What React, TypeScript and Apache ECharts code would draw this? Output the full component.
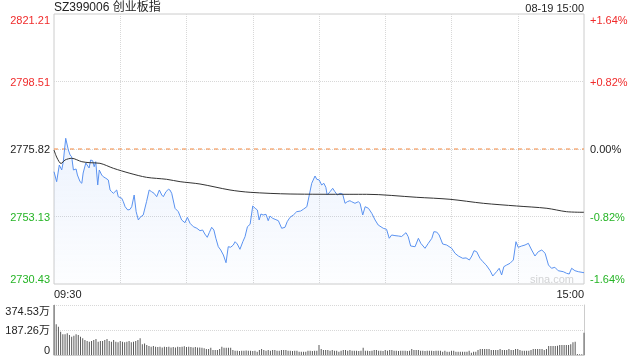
import React, { useEffect, useRef } from "react";
import * as echarts from "echarts";

const FONT = "'Liberation Sans', Arial, 'Noto Sans CJK SC', sans-serif";

const titleText = "SZ399006 创业板指";
const timeText = "08-19 15:00";
const timeLabels = ["09:30", "15:00"];

const priceMin = 2730.43;
const priceMax = 2821.21;
const prevClose = 2775.82;
const priceTicks = ["2730.43", "2753.13", "2775.82", "2798.51", "2821.21"];
const pctTicks = ["-1.64%", "-0.82%", "0.00%", "+0.82%", "+1.64%"];
const tickTone = ["g", "g", "k", "r", "r"];

const volMax = 374.53;
const volTicks = ["0", "187.26万", "374.53万"];

// minute index (0 = 09:30, 240 = 15:00) of each traced point
const minuteIdx = [
  0, 1.2, 2.4, 3.5, 4.2, 5.3, 6.5, 7.3, 8.0, 8.8, 10.0, 10.6, 11.8, 12.6, 13.2, 14.4, 15.0, 15.9, 16.6, 17.5,
  18.2, 18.9, 19.8, 20.5, 21.6, 22.3, 23.5, 24.6, 25.4, 26.1, 26.9, 28.4, 29.1, 30.7, 31.4, 32.2, 33.4, 34.4, 35.2, 36.3,
  37.2, 38.2, 39.0, 40.4, 41.9, 43.1, 44.2, 45.3, 46.5, 47.7, 48.8, 49.5, 50.7, 51.8, 52.5, 53.3, 54.8, 56.3, 57.8, 59.3,
  60.4, 61.6, 63.1, 64.7, 66.1, 67.3, 68.3, 69.4, 70.3, 71.4, 72.4, 73.3, 74.4, 75.5, 76.7, 77.9, 78.9, 80.0, 81.2, 82.0,
  83.0, 84.2, 85.5, 86.5, 87.6, 88.8, 90.0, 91.1, 92.1, 92.9, 93.7, 94.7, 96.0, 97.0, 97.8, 99.0, 100.1, 101.6, 103.1, 104.6,
  105.6, 106.9, 108.4, 109.9, 111.7, 112.9, 114.5, 115.6, 116.7, 118.2, 119.0, 120.1, 121.2, 122.2, 123.1, 123.7, 125.0, 126.2, 127.2, 128.3,
  129.5, 130.7, 131.8, 132.8, 134.0, 134.8, 136.3, 137.8, 138.6, 139.8, 140.9, 142.4, 143.9, 145.4, 146.8, 149.1, 150.6, 151.8, 152.9, 154.4,
  155.9, 157.4, 159.4, 160.4, 161.5, 163.5, 165.0, 166.1, 168.0, 169.5, 171.1, 172.0, 173.3, 174.4, 176.0, 177.8, 180.1, 181.6, 183.1, 185.1,
  186.6, 188.1, 189.2, 190.2, 191.4, 192.9, 194.2, 195.7, 197.5, 198.7, 200.4, 201.6, 202.7, 203.7, 205.0, 206.5, 208.0, 209.2, 210.2, 211.8,
  213.3, 214.8, 216.3, 217.8, 219.3, 220.9, 222.4, 223.9, 225.3, 226.8, 228.3, 230.6, 232.1, 233.3, 234.4, 235.9, 237.4, 240,
];

const prices = [
  2768.19, 2764.83, 2770.44, 2768.76, 2771.55, 2779.42, 2775.48, 2773.8, 2773.23, 2768.76, 2769.1, 2767.08, 2764.83, 2764.29, 2767.75, 2771.11, 2770.44, 2769.43, 2772.12, 2771.9,
  2769.87, 2771.55, 2763.72, 2768.76, 2767.08, 2766.51, 2765.97, 2765.4, 2762.04, 2761.46, 2760.93, 2762.04, 2759.78, 2759.24, 2758.1, 2756.42, 2755.31, 2755.5, 2756.42, 2760.35,
  2754.74, 2751.95, 2752.86, 2753.63, 2758.1, 2762.04, 2761.46, 2760.93, 2759.78, 2762.04, 2760.35, 2759.78, 2761.46, 2762.27, 2762.04, 2760.93, 2755.88, 2754.74, 2751.95, 2751.04,
  2752.86, 2750.84, 2749.7, 2749.16, 2748.35, 2748.59, 2747.24, 2746.13, 2747.68, 2749.49, 2748.59, 2745.8, 2742.97, 2741.86, 2740.18, 2737.59, 2742.97, 2742.8, 2743.54, 2744.65,
  2743.88, 2742.1, 2744.65, 2746.33, 2749.7, 2750.5, 2756.66, 2755.88, 2755.31, 2751.95, 2753.97, 2753.63, 2753.86, 2751.71, 2753.29, 2752.52, 2752.18, 2751.71, 2749.16, 2749.49,
  2751.38, 2752.86, 2753.63, 2754.74, 2754.97, 2755.55, 2756.42, 2760.35, 2764.29, 2766.74, 2765.63, 2765.4, 2763.72, 2764.29, 2762.94, 2760.35, 2761.46, 2762.61, 2761.46, 2760.35,
  2760.93, 2760.69, 2757.56, 2758.1, 2758.44, 2758.1, 2757.56, 2758.1, 2757.56, 2753.63, 2756.42, 2755.88, 2754.2, 2751.95, 2750.27, 2749.16, 2748.82, 2745.8, 2746.91, 2746.7,
  2746.57, 2746.4, 2747.68, 2746.33, 2743.21, 2742.97, 2745.8, 2744.11, 2742.43, 2744.11, 2745.8, 2748.01, 2747.9, 2746.91, 2743.88, 2743.54, 2742.43, 2740.75, 2739.84, 2739.07,
  2739.2, 2738.5, 2739.84, 2741.63, 2741.29, 2739.07, 2737.93, 2736.82, 2734.9, 2733.12, 2734.57, 2735.71, 2733.46, 2736.25, 2736.82, 2737.39, 2738.5, 2744.65, 2742.77, 2743.21,
  2743.54, 2744.11, 2741.86, 2739.84, 2741.29, 2741.86, 2740.75, 2736.82, 2735.71, 2736.05, 2734.9, 2734.57, 2734.03, 2733.79, 2735.71, 2734.9, 2734.57, 2734.23,
];

const avgIdx = [0, 1.4, 3.2, 5.0, 8.0, 12.6, 16.3, 20.8, 26.9, 34.4, 41.9, 51.0, 57.1, 66.1, 79.7, 88.8, 106.9, 134.0, 141.6, 164.3, 179.3, 194.4, 209.5, 223.2, 232.1, 240];
const avgPrices = [
  2775.48, 2772.79, 2770.94, 2772.12, 2772.69, 2771.55, 2771.21, 2771.01, 2769.33, 2767.65, 2766.3, 2765.63, 2764.83, 2764.05, 2762.04, 2761.26,
  2760.69, 2760.59, 2760.59, 2759.58, 2758.91, 2757.56, 2756.66, 2755.88, 2754.74, 2754.54,
];

// previous-close reference line, from session start to end
const refIdx = [0, 240];

// volume per minute, in 万
const volumes = [
  374.53, 230, 212, 175, 155, 155, 162, 150, 137, 145,
  155, 150, 137, 125, 112, 105, 100, 105, 112, 120,
  100, 105, 105, 112, 120, 105, 100, 112, 100, 95,
  105, 100, 95, 100, 105, 95, 100, 105, 112, 125,
  80, 87, 75, 67, 62, 67, 62, 60, 62, 57,
  62, 60, 62, 57, 60, 57, 62, 60, 62, 65,
  60, 62, 60, 57, 60, 57, 57,
  55, 50, 45, 45, 55, 37, 37, 37, 45, 62, 55, 55, 55, 55, 37,
  32, 32, 30, 32, 32, 34, 32, 32, 30, 32,
  25, 37, 45, 37, 32, 37, 32, 37, 37, 32, 32, 37, 37, 37,
  32, 32, 30, 32, 32, 25, 25, 25, 25, 32, 32, 30, 32, 32,
  75,
  45, 37, 37, 37, 32, 37, 32, 32, 25, 32, 37, 37, 32, 37, 32,
  32, 32, 30, 32, 55, 32, 32, 30, 32, 37, 37, 32, 32, 30, 37, 32, 37, 37,
  32, 32, 30, 32, 32, 32, 30, 32, 45, 37, 37, 37,
  32, 32, 30, 32, 32, 32, 30, 32, 32, 32, 25, 32, 25,
  25, 32, 32, 25, 25, 25, 25, 25, 25,
  32, 17, 25, 25, 37,
  45, 45, 45, 45, 45, 37, 37, 37, 37, 45, 37, 37, 37, 45, 37, 37, 45, 45, 37,
  32, 32, 32, 32, 37, 45, 45, 45, 45, 45, 37, 45,
  67, 67, 67, 67, 70, 75, 75, 75, 75, 75, 80, 95, 100,
  8, 6, 6,
  167,
];

const RED = "#f02b2b";
const GREEN = "#25b425";
const BLACK = "#222";

export default function App() {
  const ref = useRef<HTMLDivElement>(null);
  useEffect(() => {
    document.body.style.margin = "0";
    if (!ref.current) return;
    const chart = echarts.init(ref.current, undefined, { renderer: "svg" });
    const interval = (priceMax - priceMin) / 4;
    const idxOf = (v: number) => Math.round((v - priceMin) / interval);
    const rich = {
      r: { color: RED, fontSize: 11, fontFamily: FONT },
      g: { color: GREEN, fontSize: 11, fontFamily: FONT },
      k: { color: BLACK, fontSize: 11, fontFamily: FONT },
    };
    const lineData = minuteIdx.map((t, i) => [t, prices[i]]);
    const avgData = avgIdx.map((t, i) => [t, avgPrices[i]]);
    const refData = refIdx.map((t) => [t, prevClose]);
    const volData = volumes.map((v, i) => [i, v]);

    chart.setOption({
      animation: false,
      textStyle: { fontFamily: FONT },
      title: [
        { text: titleText, left: 54, top: 1, padding: 0, textStyle: { fontSize: 12, fontWeight: "normal", color: BLACK, fontFamily: FONT } },
        { text: timeText, right: 56, top: 2, padding: 0, textStyle: { fontSize: 11, fontWeight: "normal", color: BLACK, fontFamily: FONT } },
      ],
      grid: [
        { left: 54, right: 56, top: 14, height: 270, show: true, borderColor: "#ccc", borderWidth: 1 },
        { left: 54, right: 56, top: 305, height: 50 },
      ],
      xAxis: [
        {
          type: "value", gridIndex: 0, min: 0, max: 240, interval: 30,
          axisLine: { show: false }, axisTick: { show: false },
          splitLine: { show: true, showMinLine: false, showMaxLine: false, lineStyle: { color: "#d8d8d8", type: "dotted" } },
          axisLabel: {
            show: true, margin: 4, fontSize: 11, color: BLACK, fontFamily: FONT,
            showMinLabel: true, showMaxLabel: true,
            alignMinLabel: "left", alignMaxLabel: "right",
            formatter: (v: number) => (v === 0 ? timeLabels[0] : v === 240 ? timeLabels[1] : ""),
          },
        },
        {
          type: "value", gridIndex: 1, min: 0, max: 240, interval: 30,
          axisLine: { show: true, lineStyle: { color: "#ccc" } }, axisTick: { show: false },
          axisLabel: { show: false }, splitLine: { show: false },
        },
      ],
      yAxis: [
        {
          type: "value", gridIndex: 0, min: priceMin, max: priceMax, interval,
          axisLine: { show: false }, axisTick: { show: false },
          splitLine: { show: true, showMinLine: false, showMaxLine: false, lineStyle: { color: "#d8d8d8", type: "dotted" } },
          axisLabel: {
            margin: 4, fontSize: 11,
            verticalAlignMinLabel: "bottom", verticalAlignMaxLabel: "top",
            formatter: (v: number) => { const k = idxOf(v); return `{${tickTone[k]}|${priceTicks[k]}}`; },
            rich,
          },
        },
        {
          type: "value", gridIndex: 0, position: "right", min: priceMin, max: priceMax, interval,
          axisLine: { show: false }, axisTick: { show: false }, splitLine: { show: false },
          axisLabel: {
            margin: 6, fontSize: 11,
            verticalAlignMinLabel: "bottom", verticalAlignMaxLabel: "top",
            formatter: (v: number) => { const k = idxOf(v); return `{${tickTone[k]}|${pctTicks[k]}}`; },
            rich,
          },
        },
        {
          type: "value", gridIndex: 1, min: 0, max: volMax, interval: volMax / 2,
          axisLine: { show: true, lineStyle: { color: "#ccc" } }, axisTick: { show: false },
          splitLine: { show: true, lineStyle: { color: "#d8d8d8", type: "dotted" } },
          axisLabel: {
            margin: 4, fontSize: 11, color: BLACK, fontFamily: FONT,
            verticalAlignMinLabel: "bottom", verticalAlignMaxLabel: "top",
            formatter: (v: number) => volTicks[Math.round(v / (volMax / 2))],
          },
        },
        {
          type: "value", gridIndex: 1, position: "right", min: 0, max: volMax, interval: volMax / 2,
          axisLine: { show: true, lineStyle: { color: "#ccc" } }, axisTick: { show: false },
          splitLine: { show: false }, axisLabel: { show: false },
        },
      ],
      graphic: [
        { type: "text", right: 66, top: 273, z: 1, style: { text: "sina.com", fontSize: 11, fill: "#d4d4d4", fontFamily: FONT } },
      ],
      series: [
        {
          type: "line", xAxisIndex: 0, yAxisIndex: 0, data: refData, symbol: "none", z: 2, silent: true,
          lineStyle: { color: "#f5883f", type: [4, 4], width: 1 },
        },
        {
          type: "line", xAxisIndex: 0, yAxisIndex: 0, data: lineData, symbol: "none", z: 3,
          lineStyle: { color: "#5a92f0", width: 1 },
          areaStyle: {
            origin: "start",
            color: new echarts.graphic.LinearGradient(0, 0, 0, 1, [
              { offset: 0, color: "rgba(90,146,240,0.16)" },
              { offset: 1, color: "rgba(90,146,240,0.02)" },
            ]),
          },
        },
        {
          type: "line", xAxisIndex: 0, yAxisIndex: 0, data: avgData, symbol: "none", smooth: 0.3, z: 4,
          lineStyle: { color: "#333", width: 1 },
        },
        {
          type: "bar", xAxisIndex: 1, yAxisIndex: 2, data: volData, barWidth: 1,
          itemStyle: { color: "#5a5a5a" },
        },
      ],
    });
    return () => chart.dispose();
  }, []);
  return <div ref={ref} style={{ position: "fixed", left: 0, top: 0, width: 640, height: 360 }} />;
}
